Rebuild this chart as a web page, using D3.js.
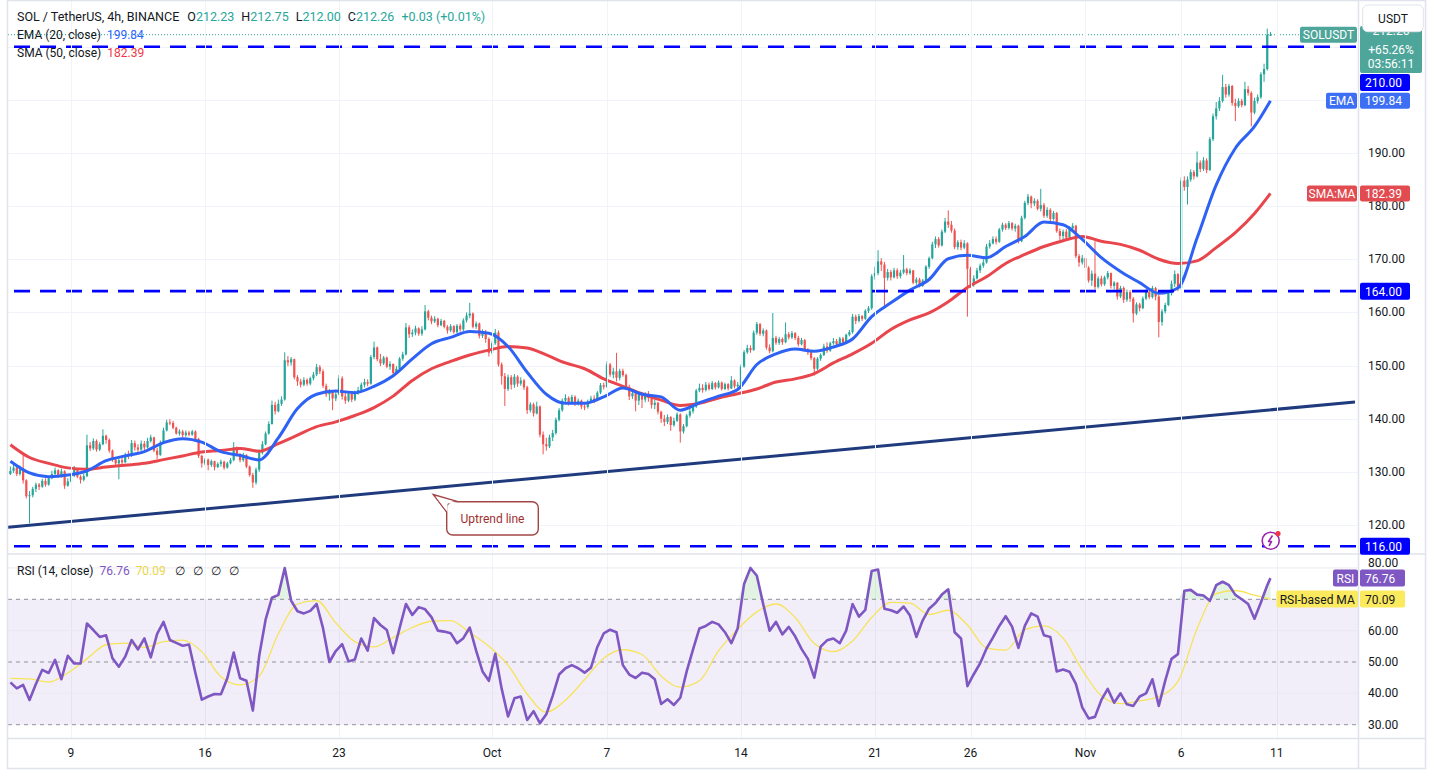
<!DOCTYPE html>
<html><head><meta charset="utf-8">
<script src="https://cdn.jsdelivr.net/npm/d3@7"></script>
<style>
html,body{margin:0;padding:0;background:#fff;overflow:hidden;}
svg{display:block;font-family:Roboto,"Noto Sans",sans-serif;}
</style></head><body>
<svg id="c" width="1434" height="776"></svg>
<script>
// ---------------- DATA ----------------
const firstOpen = 129.6;
const closes = [
130.2,130.8,129.6,130.5,128.4,125.4,125.6,126.8,127.6,127.2,
128.3,127.6,128.8,129.6,130.3,129.2,130.1,127.4,128.2,129.3,
130.4,129.1,128.5,129.2,135.0,134.4,135.8,134.2,135.2,136.8,
136.0,134.0,132.3,131.6,132.2,131.8,133.2,133.0,135.4,134.6,
134.2,135.3,134.6,135.8,136.5,134.0,133.2,135.5,137.8,139.3,
139.2,138.3,137.2,137.6,136.9,137.4,137.0,137.6,136.2,133.0,
131.6,132.3,131.3,132.0,130.9,131.5,131.9,130.8,131.6,132.2,
134.6,133.4,132.2,133.2,131.0,129.4,128.0,130.4,133.6,135.2,
137.2,139.0,142.6,141.4,142.8,143.6,151.0,150.6,151.2,147.8,
147.0,146.4,147.3,146.6,147.6,148.3,149.7,148.9,146.2,144.6,
145.0,143.8,144.6,147.6,144.2,143.4,144.8,143.6,144.9,145.4,
146.4,146.9,146.6,151.6,153.4,151.2,150.4,151.5,149.8,150.3,
148.6,149.4,151.3,152.1,157.2,155.9,156.2,157.0,156.0,156.8,
160.2,159.0,158.3,158.8,157.6,158.4,157.3,156.6,157.4,156.3,
157.5,156.8,158.5,159.4,159.8,157.3,157.9,155.6,156.4,155.0,
152.4,154.2,156.2,150.2,148.0,145.6,147.8,146.4,147.9,146.6,
147.2,145.9,141.6,142.7,141.0,142.3,137.0,135.2,134.8,136.5,
137.3,139.8,141.6,143.4,143.9,143.1,144.1,142.8,143.4,142.3,
142.2,143.2,143.8,143.5,144.9,146.3,146.0,150.2,148.3,148.9,
147.7,149.0,148.2,146.0,144.2,144.8,143.4,144.5,143.6,144.7,
143.9,142.6,143.0,141.3,140.0,139.4,140.3,138.8,139.6,140.8,
137.6,138.6,140.6,141.4,142.3,145.3,145.8,145.4,146.4,145.6,
146.7,145.9,146.8,145.6,146.5,145.7,147.2,146.1,146.4,149.8,
152.5,153.3,152.9,156.2,157.8,156.0,156.6,153.4,152.7,155.2,
154.3,155.0,154.4,155.9,155.3,156.1,155.2,154.0,154.8,153.0,
152.5,151.4,149.4,151.3,152.0,153.6,152.8,154.2,154.6,154.0,
155.1,154.4,155.8,156.3,159.2,158.4,159.3,158.8,160.3,160.8,
166.8,167.4,169.6,169.0,166.5,167.6,166.6,167.9,166.8,167.5,
168.1,167.4,167.9,165.6,166.2,165.0,166.0,168.6,170.2,172.8,
173.8,172.6,175.2,177.1,176.5,175.4,172.3,173.2,172.2,173.0,
168.2,165.3,166.4,167.9,168.8,169.4,172.4,173.0,173.8,173.3,
175.6,176.5,175.9,176.8,175.8,176.3,173.4,177.8,180.6,181.8,
180.5,181.0,179.5,180.2,178.2,179.3,177.6,178.7,175.3,174.4,
175.2,174.1,175.8,176.3,170.6,169.4,170.2,168.4,166.0,167.3,
164.8,166.4,165.3,166.6,167.4,165.0,165.6,163.0,164.6,162.4,
163.8,162.6,159.8,161.5,160.8,162.6,163.9,162.9,164.6,163.0,
158.2,160.2,161.4,163.6,165.4,167.2,164.6,184.8,183.6,185.0,
186.4,185.6,188.2,187.0,188.6,186.8,192.6,196.9,198.4,199.8,
202.4,201.0,202.6,199.4,198.8,199.8,199.0,202.0,201.3,197.6,
199.8,200.5,204.8,205.8,212.23,212.26];
const highs = [
131.0,131.6,131.2,131.2,133.3,128.6,126.4,127.2,128.0,127.9,
128.7,128.8,129.2,130.2,130.8,130.5,130.6,130.3,128.8,129.6,
131.1,130.6,129.4,129.6,137.0,135.6,136.3,136.1,135.6,138.0,
137.0,136.3,134.2,132.8,132.7,132.9,133.6,134.0,136.0,135.9,
135.2,135.9,135.8,136.4,137.0,136.6,134.5,135.9,138.3,139.8,
139.9,139.6,138.5,138.0,137.9,137.8,137.7,137.9,137.8,136.4,
133.2,132.6,132.5,132.3,132.1,131.8,132.3,132.1,131.9,132.6,
135.6,134.8,133.5,133.6,133.3,131.2,129.8,130.8,134.2,135.8,
137.6,139.5,143.4,143.2,143.6,144.2,152.5,151.8,151.6,151.3,
148.2,147.5,147.8,147.6,147.9,148.8,150.3,150.1,149.3,146.6,
145.6,145.4,145.0,148.2,148.0,144.9,145.2,145.2,145.3,146.0,
146.8,147.5,147.4,152.0,154.5,153.6,152.2,151.8,151.7,150.8,
150.4,149.9,151.6,152.6,158.0,157.6,156.8,157.5,157.2,157.4,
161.4,160.5,159.4,159.3,159.0,158.8,158.6,157.6,157.8,157.6,
157.8,157.9,158.9,160.0,161.8,160.0,158.3,158.1,156.8,156.7,
155.3,154.6,156.9,156.6,150.6,148.6,148.3,148.2,148.4,148.2,
147.8,147.5,146.2,143.1,143.0,143.2,142.5,137.6,136.4,137.0,
137.9,140.2,142.0,143.8,144.6,144.2,144.5,144.4,143.8,143.6,
143.0,143.6,144.3,144.4,145.2,146.7,146.8,150.8,150.5,149.6,
152.4,149.4,149.4,148.5,146.4,145.3,145.2,145.0,144.8,145.0,
145.2,144.2,143.6,143.2,141.5,140.7,140.8,140.5,140.2,141.2,
141.0,139.0,140.9,141.9,142.6,145.6,146.6,146.5,146.9,146.8,
147.1,146.9,147.2,147.0,146.8,146.7,148.0,147.4,146.9,150.2,
152.9,153.9,153.8,156.6,158.2,158.0,157.0,156.8,154.0,159.9,
155.6,155.4,155.3,158.1,156.3,156.5,156.3,155.6,155.2,155.0,
153.3,152.8,151.6,151.6,152.3,154.1,154.4,154.5,155.2,155.0,
155.4,155.4,156.0,156.7,159.7,159.6,159.7,159.5,160.6,161.2,
167.2,168.6,171.7,170.2,169.5,168.2,168.0,168.4,168.3,168.0,
170.8,168.4,168.3,168.0,166.6,166.5,166.3,168.9,170.5,173.3,
174.3,174.2,175.6,177.8,179.2,177.2,175.8,173.6,173.7,173.6,
173.2,168.6,167.0,168.4,169.2,170.0,172.9,173.6,174.3,174.3,
175.9,176.9,176.8,177.2,177.0,176.7,176.5,178.2,181.0,182.3,
182.0,181.5,181.3,183.25,180.6,179.8,179.6,179.1,178.9,175.8,
175.6,175.7,176.2,176.8,176.5,171.0,170.8,170.6,168.7,167.9,
173.4,166.8,166.9,166.9,167.8,167.5,165.9,165.7,165.0,164.9,
164.3,164.2,162.9,161.9,161.8,163.0,164.4,164.3,165.0,164.8,
163.4,160.6,161.8,164.0,166.0,167.9,167.4,185.4,185.6,185.6,
186.9,186.8,190.3,188.6,189.2,189.0,193.0,197.4,199.6,200.5,
204.7,203.0,203.0,202.8,200.2,200.3,200.2,203.4,202.6,201.6,
200.4,201.0,205.2,206.8,213.4,212.75];
const lows = [
129.4,129.8,129.2,129.3,127.8,125.0,120.3,125.2,126.2,126.6,
127.0,127.2,127.4,128.6,129.3,128.9,128.9,126.8,127.2,128.0,
129.0,128.8,127.8,128.2,129.0,133.9,134.1,133.8,133.9,135.0,
135.3,133.6,131.9,131.3,128.6,131.2,131.6,132.4,132.8,134.0,
133.6,133.9,134.1,134.4,135.5,133.7,132.4,133.0,135.3,137.6,
138.8,138.0,137.0,136.8,136.5,136.6,136.7,136.8,135.7,132.6,
130.8,131.2,130.3,130.9,130.3,130.7,131.0,130.4,130.6,131.4,
132.0,133.0,131.8,131.9,130.7,129.1,127.0,127.6,130.0,133.3,
135.0,137.0,138.9,140.8,141.2,142.4,143.4,149.9,150.0,147.4,
146.2,145.9,146.1,146.2,146.3,147.2,148.0,148.4,145.8,144.1,
143.4,141.6,143.3,144.4,143.6,142.8,143.1,143.1,143.3,144.5,
145.0,145.9,146.1,146.4,151.2,150.8,149.9,150.1,149.5,149.2,
147.8,148.3,149.2,150.9,151.9,155.2,155.4,155.7,155.6,155.6,
156.6,158.5,157.8,158.0,157.2,157.4,157.0,156.0,156.3,156.0,
156.0,156.4,156.5,158.1,158.9,157.0,156.9,155.1,155.2,154.3,
151.7,152.1,153.9,149.8,146.4,142.4,145.2,145.5,145.8,146.0,
146.2,145.4,140.9,141.2,140.4,140.8,136.5,133.3,134.0,134.5,
135.8,137.0,139.5,141.3,142.9,142.5,142.7,142.4,142.5,141.8,
141.6,141.9,142.9,142.9,143.3,144.6,145.5,145.8,147.9,147.6,
147.0,147.2,147.9,145.6,143.5,143.7,141.4,142.6,142.0,143.1,
143.2,141.9,141.8,140.8,139.2,138.6,139.0,137.7,138.5,139.4,
135.5,137.2,138.4,140.2,141.0,142.0,145.0,144.9,145.1,145.3,
145.4,145.5,145.7,145.3,145.4,145.3,145.6,145.7,145.8,146.2,
149.6,152.2,152.4,152.8,155.8,155.6,155.5,153.0,152.3,152.5,
153.9,153.9,153.9,154.2,154.9,155.0,154.8,153.6,153.8,152.7,
152.0,151.0,148.1,149.1,150.9,151.8,152.4,152.6,153.9,153.7,
153.8,154.1,154.2,155.5,156.0,157.8,158.1,158.4,158.6,159.9,
160.5,166.2,167.0,167.8,161.0,166.0,166.0,166.4,166.3,166.4,
167.2,167.0,167.1,165.3,165.2,164.7,164.8,165.9,168.2,170.0,
172.1,172.2,172.4,174.9,175.9,175.0,171.9,171.8,171.7,171.9,
159.2,164.6,164.8,166.2,167.4,168.4,169.2,172.0,172.8,172.8,
173.1,175.2,175.5,175.6,175.4,175.2,173.0,173.2,177.5,180.2,
179.6,180.0,179.2,179.0,177.8,177.8,177.0,177.3,175.0,173.5,
173.4,173.6,173.9,175.4,170.2,168.6,169.0,167.8,165.6,165.0,
164.3,164.5,164.9,165.0,166.2,164.5,164.3,162.4,162.7,161.8,
162.0,162.0,158.1,159.5,160.2,160.6,162.3,162.5,162.6,162.3,
155.3,157.5,159.8,161.2,163.2,164.8,164.0,164.2,182.9,180.3,
184.6,185.0,185.4,186.4,186.6,186.2,186.6,192.2,196.3,197.9,
199.5,200.4,200.6,198.9,196.0,198.5,198.6,198.8,200.8,195.0,
197.3,199.3,200.2,203.4,205.5,212.00];

// EMA(20) and SMA(50), read once per day (every 6th candle) plus the last candle
const ema20 = [132.0,129.8,129.1,129.4,130.2,132.1,133.0,133.8,135.5,136.25,
135.6,133.8,133.1,132.25,136.4,141.9,144.6,145.2,144.9,146.1,
148.1,151.25,154.1,155.3,156.4,156.1,153.6,148.75,144.6,142.9,
142.9,144.1,145.8,144.6,144.1,141.6,143.0,144.25,145.5,150.2,
152.2,153.1,152.7,153.5,155.0,159.2,161.8,164.2,166.2,170.1,
170.75,170.3,172.4,174.3,177.0,176.5,173.75,170.3,167.7,165.6,
163.6,164.6,174.0,184.0,190.9,195.0,199.84];
const sma50 = [135.1,132.7,131.6,130.75,130.5,130.9,131.25,131.6,132.3,133.0,
133.75,134.0,134.4,133.9,135.3,136.9,138.5,139.4,140.6,142.1,
144.25,147.2,149.4,150.8,152.0,152.9,153.6,153.3,152.0,150.5,
149.4,147.5,146.1,144.7,143.5,142.5,142.9,143.9,144.7,145.6,
146.9,147.5,148.5,150.5,152.2,154.2,156.8,158.6,159.9,162.0,
164.7,166.7,169.2,170.9,172.4,173.5,174.3,173.4,172.8,171.7,
170.0,169.2,169.7,172.2,175.0,178.6,182.39];

// RSI(14), read every 2nd candle plus the last candle
const rsi14 = [
43.5,41.6,42.7,37.9,43,47.5,46.5,50.7,44.5,52,
49.5,49.5,62.3,60.2,58,58.5,51.2,48.5,51.7,57,
54,57.5,51.5,59,62.8,57,56.1,55.2,55.6,46.5,
38,39,39.8,39.7,44.8,53,44.8,44,34.5,52,
63.5,70.5,71.4,80,69.6,66.2,65.5,66.3,68.5,60.8,
50,53.5,55.7,50.2,50.8,57.5,53.6,64,61.8,60.2,
52.8,60.8,68.5,65,67.5,66.8,64.3,60,59.7,59.2,
56,57.6,61,53.6,47,44,52.6,41.5,32.6,38.4,
39,31.5,34.3,30.5,33.3,39.2,46,48,49,48,
46.6,48.2,54.8,59.1,60.3,59.5,49,46,44.9,46.6,
46.2,44.5,36.6,38.1,36.3,38.6,47,54,60.7,61.5,
62.8,62,59.5,56,60.8,74.9,80,77.5,68.4,60,
62.8,58.8,61.2,58.2,54.2,51,45,54.9,56.9,57.5,
56,60,68.5,64.5,66.6,79,79.5,67,66.5,65.7,
67.7,64.8,58,63.3,67,68.8,71.5,73.2,59.5,57.5,
42.3,46.1,49.6,54.3,57.8,61.5,64.6,61.3,54.5,61.5,
65.5,64.5,58.5,58,47,47.6,46.9,43,35.5,32,
32.5,37.9,41.4,37,40,36.5,36,39,40,44.5,
36,44,51,52.5,72.7,73,71.5,71.2,69.5,74.5,
75.6,74.5,71.4,70,68.5,63.8,69,74.5,76.76];
// RSI-based MA, read once per day plus the last candle
const rsiMA = [44.8,44.6,43.6,46.5,51,55.5,56,54.7,56.5,57,
53.3,45.3,42.7,45.5,59,68.5,69.6,62.5,56.5,54.8,
57.8,61,63,63.2,59.4,55,49,39.8,34,37.8,
44.4,51.2,53.9,52.4,45.5,42,44,53.6,60.5,66,
68.5,64.2,55.9,53.3,56.7,64.2,69,68.8,65.1,66.5,
61.8,54.5,53.8,60.3,61.5,57.6,47.5,39.2,36.7,37.6,
39,43.8,60.6,71.8,72.8,71.3,70.09];

const levels = [210, 164, 116];
const trendLine = [["2024-09-05T17:00:00Z",119.57],["2024-11-15T02:00:00Z",143.15]];
const priceTicks = [120,130,140,150,160,170,180,190,200,210];
const priceTickLabels = [120,130,140,150,160,170,180,190];   // 200 and 210 sit under the tags
const rsiTicks = [30,40,50,60,70,80];
const rsiTickLabels = [30,40,50,60,80];                      // 70 sits under the MA tag
const timeTickDates = ["2024-09-09","2024-09-16","2024-09-23","2024-10-01","2024-10-07","2024-10-14","2024-10-21","2024-10-26","2024-11-01","2024-11-06","2024-11-11"];
const timeTickLabels = ["9","16","23","Oct","7","14","21","26","Nov","6","11"];
const changePct = "+65.26%";
const countdown = "03:56:11";

// ---------------- LAYOUT ----------------
const plotL = 8, plotR = 1358.5, axisR = 1425.5;
const sepY = 554, timeAxisY = 738.5, bottomY = 768.5;
const DAY = 86400e3, H4 = 4*3600e3;
const startT = Date.UTC(2024,8,5,20);
const sep9 = Date.UTC(2024,8,9);
const n = closes.length;
const dates = d3.range(n).map(i => new Date(startT + i*H4));
const candles = d3.range(n).map(i => {
  const o = i === 0 ? firstOpen : closes[i-1], c = closes[i];
  return {t: dates[i], o, c, h: Math.max(highs[i], o, c), l: Math.min(lows[i], o, c)};
});

const x = d3.scaleUtc().domain([new Date(sep9 - 3.2915*DAY), new Date(sep9 + 67.241*DAY)]).range([8, 1358]);
const y = d3.scaleLinear().domain([120,210]).range([525,46.7]);
const yr = d3.scaleLinear().domain([30,70]).range([724.7,599.3]);

const svg = d3.select("#c");
const defs = svg.append("defs");
defs.append("clipPath").attr("id","cpP").append("rect").attr("x",plotL).attr("y",1).attr("width",plotR-plotL).attr("height",sepY-1);
defs.append("clipPath").attr("id","cpR").append("rect").attr("x",plotL).attr("y",sepY).attr("width",plotR-plotL).attr("height",timeAxisY-sepY);

const gridC = "#f0f3fa";
const gP = svg.append("g").attr("clip-path","url(#cpP)");
gP.selectAll("line.hg").data(priceTicks).join("line")
  .attr("x1",plotL).attr("x2",plotR).attr("y1",d=>Math.round(y(d))+0.5).attr("y2",d=>Math.round(y(d))+0.5)
  .attr("stroke",gridC).attr("stroke-width",1);
svg.append("g").selectAll("line").data(timeTickDates).join("line")
  .attr("x1",d=>Math.round(x(new Date(d+"T00:00:00Z")))+0.5).attr("x2",d=>Math.round(x(new Date(d+"T00:00:00Z")))+0.5)
  .attr("y1",1).attr("y2",timeAxisY).attr("stroke",gridC);

// candles
const up = "#26a69a", dn = "#ef5350";
const bw = 2.2;
const gc = gP.append("g");
gc.selectAll("line").data(candles).join("line")
  .attr("x1",d=>x(d.t)).attr("x2",d=>x(d.t)).attr("y1",d=>y(d.h)).attr("y2",d=>y(d.l))
  .attr("stroke",d=>d.c>=d.o?up:dn).attr("stroke-width",1);
gc.selectAll("rect").data(candles).join("rect")
  .attr("x",d=>x(d.t)-bw/2).attr("width",bw)
  .attr("y",d=>Math.min(y(d.o),y(d.c))).attr("height",d=>Math.max(1,Math.abs(y(d.o)-y(d.c))))
  .attr("fill",d=>d.c>=d.o?up:dn);

// moving averages
const dayIdx = arr => arr.map((v,k)=> k===arr.length-1 ? n-1 : k*6);
const emaIdx = dayIdx(ema20), smaIdx = dayIdx(sma50);
const maLine = d3.line().x(d=>x(dates[d[0]])).y(d=>y(d[1])).curve(d3.curveMonotoneX);
gP.append("path").attr("d",maLine(sma50.map((v,k)=>[smaIdx[k],v]))).attr("fill","none").attr("stroke","#e8464c").attr("stroke-width",3).attr("stroke-linejoin","round");
gP.append("path").attr("d",maLine(ema20.map((v,k)=>[emaIdx[k],v]))).attr("fill","none").attr("stroke","#2e62f5").attr("stroke-width",3).attr("stroke-linejoin","round");

// current price dotted line
const last = candles[n-1];
gP.append("line").attr("x1",plotL).attr("x2",plotR).attr("y1",y(last.c)).attr("y2",y(last.c))
  .attr("stroke",up).attr("stroke-width",1).attr("stroke-dasharray","1 2");

// horizontal levels
gP.selectAll("line.lvl").data(levels).join("line").attr("class","lvl")
  .attr("x1",plotL+6).attr("x2",plotR).attr("y1",d=>y(d)).attr("y2",d=>y(d))
  .attr("stroke","#0000ff").attr("stroke-width",2.6).attr("stroke-dasharray","16 10");

// uptrend line
const tl = trendLine.map(d=>[x(new Date(d[0])), y(d[1])]);
gP.append("line").attr("x1",tl[0][0]).attr("y1",tl[0][1]).attr("x2",tl[1][0]).attr("y2",tl[1][1])
  .attr("stroke","#1f3a7d").attr("stroke-width",3);

// callout
const cg = svg.append("g");
cg.append("path").attr("d","M446.7,512 L433.3,494.5 L458,501.7").attr("fill","#fff").attr("stroke","#a34544").attr("stroke-width",1.4);
cg.append("rect").attr("x",446.7).attr("y",501.7).attr("width",91.6).attr("height",33.3).attr("rx",6)
  .attr("fill","#fff").attr("stroke","#a34544").attr("stroke-width",1.4);
cg.append("path").attr("d","M447.5,503.5 L447.5,512 L436,497 L457,502.5 Z").attr("fill","#fff");
cg.append("text").attr("x",492.5).attr("y",519).attr("text-anchor","middle").attr("dominant-baseline","central")
  .attr("fill","#9e2f2f").style("font-size","12px").text("Uptrend line");

// lightning icon
const li = svg.append("g");
li.append("circle").attr("cx",1270.7).attr("cy",540.7).attr("r",8.5).attr("fill","#fff").attr("stroke","#9c27b0").attr("stroke-width",1.6);
li.append("path").attr("d","M1272.5,535.5 L1268.5,541.5 L1271.5,541.5 L1269,546").attr("fill","none").attr("stroke","#9c27b0").attr("stroke-width",1.6).attr("stroke-linejoin","round");
li.append("circle").attr("cx",1278).attr("cy",533.6).attr("r",2.6).attr("fill","#f23645");

// ---------------- RSI PANEL ----------------
const gR = svg.append("g").attr("clip-path","url(#cpR)");
gR.append("rect").attr("x",plotL).attr("width",plotR-plotL).attr("y",yr(70)).attr("height",yr(30)-yr(70)).attr("fill","rgba(126,87,194,0.1)");
gR.selectAll("line.g").data(rsiTicks.filter(d=>d%20===0)).join("line").attr("x1",plotL).attr("x2",plotR)
  .attr("y1",d=>yr(d)).attr("y2",d=>yr(d)).attr("stroke","#ebe9f1");
gR.selectAll("line.d").data(rsiTicks.filter(d=>d%20!==0)).join("line").attr("x1",plotL).attr("x2",plotR)
  .attr("y1",d=>yr(d)).attr("y2",d=>yr(d)).attr("stroke","#8f929c").attr("stroke-width",1).attr("stroke-dasharray","4 4");
const rsiIdx = rsi14.map((v,k)=> k===rsi14.length-1 ? n-1 : k*2);
const rsiPts = rsi14.map((v,k)=>[rsiIdx[k],v]);
gR.append("path").attr("d",d3.area().x(d=>x(dates[d[0]])).y0(yr(70)).y1(d=>yr(Math.max(70,d[1])))(rsiPts)).attr("fill","rgba(76,175,80,0.16)");
const maIdx = dayIdx(rsiMA);
gR.append("path").attr("d",d3.line().x(d=>x(dates[d[0]])).y(d=>yr(d[1])).curve(d3.curveMonotoneX)(rsiMA.map((v,k)=>[maIdx[k],v])))
  .attr("fill","none").attr("stroke","#f7e35a").attr("stroke-width",1.3);
gR.append("path").attr("d",d3.line().x(d=>x(dates[d[0]])).y(d=>yr(d[1]))(rsiPts))
  .attr("fill","none").attr("stroke","#7e57c2").attr("stroke-width",2.6).attr("stroke-linejoin","round");

// ---------------- FRAME ----------------
const frameC = "#e0e3eb";
svg.append("line").attr("x1",plotL).attr("x2",axisR).attr("y1",sepY).attr("y2",sepY).attr("stroke",frameC).attr("stroke-width",1.5);
svg.append("line").attr("x1",plotL).attr("x2",axisR).attr("y1",timeAxisY).attr("y2",timeAxisY).attr("stroke",frameC).attr("stroke-width",1.5);
svg.append("line").attr("x1",plotR).attr("x2",plotR).attr("y1",0).attr("y2",bottomY).attr("stroke",frameC).attr("stroke-width",1.5);
svg.append("rect").attr("x",7.5).attr("y",0.5).attr("width",axisR-7.5).attr("height",bottomY-0.5).attr("fill","none").attr("stroke",frameC).attr("stroke-width",1.5);

// time axis labels
svg.append("g").selectAll("text").data(timeTickDates).join("text")
  .attr("x",d=>x(new Date(d+"T00:00:00Z"))).attr("y",753).attr("text-anchor","middle").attr("dominant-baseline","central")
  .attr("fill","#131722").style("font-size","12px").text((d,i)=>timeTickLabels[i]);

// price axis labels
const axX = 1368;
svg.append("g").selectAll("text").data(priceTickLabels).join("text")
  .attr("x",axX).attr("y",d=>y(d)).attr("dominant-baseline","central").attr("fill","#131722").style("font-size","12px")
  .text(d=>d.toFixed(2));
// RSI axis labels; the 80 label is nudged up so the RSI tag does not cover it
svg.append("g").selectAll("text").data(rsiTickLabels).join("text")
  .attr("x",axX).attr("y",d=>d===80 ? Math.min(yr(d), 562.5) : yr(d)).attr("dominant-baseline","central").attr("fill","#131722").style("font-size","12px")
  .text(d=>d.toFixed(2));

function tag(x0, yc, w, h, fill, txt, tcol, anchor){
  const g = svg.append("g");
  g.append("rect").attr("x",x0).attr("y",yc-h/2).attr("width",w).attr("height",h).attr("rx",2).attr("fill",fill);
  g.append("text").attr("x",anchor==="middle"?x0+w/2:x0+5).attr("y",yc+0.5).attr("text-anchor",anchor||"start")
    .attr("dominant-baseline","central").attr("fill",tcol||"#fff").style("font-size","12px").text(txt);
}
tag(1360, y(164), 50, 17, "#0000ff", "164.00");
tag(1360, y(116), 50, 17, "#0000ff", "116.00");
tag(1360, 82.5, 50, 17, "#0000ff", (210).toFixed(2));
const emaLast = ema20[ema20.length-1], smaLast = sma50[sma50.length-1];
tag(1326, y(emaLast), 31, 16, "#3d6ff5", "EMA", "#fff", "middle");
tag(1360, y(emaLast), 50, 16, "#3d6ff5", emaLast.toFixed(2));
tag(1307, y(smaLast), 50, 16, "#e24b50", "SMA:MA", "#fff", "middle");
tag(1360, y(smaLast), 50, 16, "#e24b50", smaLast.toFixed(2));
tag(1300, y(last.c), 57, 16, "#4ea59a", "SOLUSDT", "#fff", "middle");
const pb = svg.append("g");
pb.append("rect").attr("x",1360).attr("y",26).attr("width",62).attr("height",47).attr("rx",2).attr("fill","#4ea59a");
[[last.c.toFixed(2),31],[changePct,49.5],[countdown,64]].forEach(([t,yy])=>{
  pb.append("text").attr("x",1391).attr("y",yy).attr("text-anchor","middle").attr("dominant-baseline","central")
    .attr("fill","#fff").style("font-size","12px").text(t);
});
svg.append("rect").attr("x",1362.7).attr("y",5).attr("width",60.6).attr("height",26.7).attr("rx",5).attr("fill","#fff").attr("stroke",frameC);
svg.append("text").attr("x",1393).attr("y",19).attr("text-anchor","middle").attr("dominant-baseline","central").attr("fill","#131722").style("font-size","12px").text("USDT");
const rsiLast = rsi14[rsi14.length-1], maLast = rsiMA[rsiMA.length-1];
tag(1333, yr(rsiLast), 25, 17, "#7e57c2", "RSI", "#fff", "middle");
tag(1360, yr(rsiLast), 45, 17, "#7e57c2", rsiLast.toFixed(2));
tag(1276.5, yr(maLast), 81.5, 17, "#fbe95e", "RSI-based MA", "#131722", "middle");
tag(1360, yr(maLast), 45, 17, "#fbe95e", maLast.toFixed(2), "#131722");

// ---------------- LEGENDS ----------------
const fs = "12.5px";
const h1 = svg.append("text").attr("x",17).attr("y",16).attr("dominant-baseline","central").style("font-size",fs);
const tc = "#26a69a";
h1.append("tspan").attr("fill","#131722").text("SOL / TetherUS, 4h, BINANCE");
[["O",last.o],["H",last.h],["L",last.l],["C",last.c]].forEach(([k,v],j)=>{
  h1.append("tspan").attr("dx", j===0?8:7).attr("fill","#131722").text(k);
  h1.append("tspan").attr("fill",tc).text(v.toFixed(2));
});
const chg = last.c - last.o;
h1.append("tspan").attr("dx",7).attr("fill",tc).text((chg>=0?"+":"")+chg.toFixed(2)+" ("+(chg>=0?"+":"")+(chg/last.o*100).toFixed(2)+"%)");

function legend(yy, label, val, col){
  const t = svg.append("text").attr("x",17).attr("y",yy).attr("dominant-baseline","central").style("font-size","12px");
  t.append("tspan").attr("fill","#131722").text(label);
  t.append("tspan").attr("dx",6).attr("fill",col).text(val);
  return t;
}
legend(34.5, "EMA (20, close)", emaLast.toFixed(2), "#2962ff");
legend(52.5, "SMA (50, close)", smaLast.toFixed(2), "#f23645");
const rl = legend(571, "RSI (14, close)", rsiLast.toFixed(2), "#7e57c2");
rl.append("tspan").attr("dx",6).attr("fill","#e8d64a").text(maLast.toFixed(2));
["∅","∅","∅","∅"].forEach((s,j)=> rl.append("tspan").attr("dx", j===0?9:8).attr("fill","#131722").text(s));
</script>
</body></html>
